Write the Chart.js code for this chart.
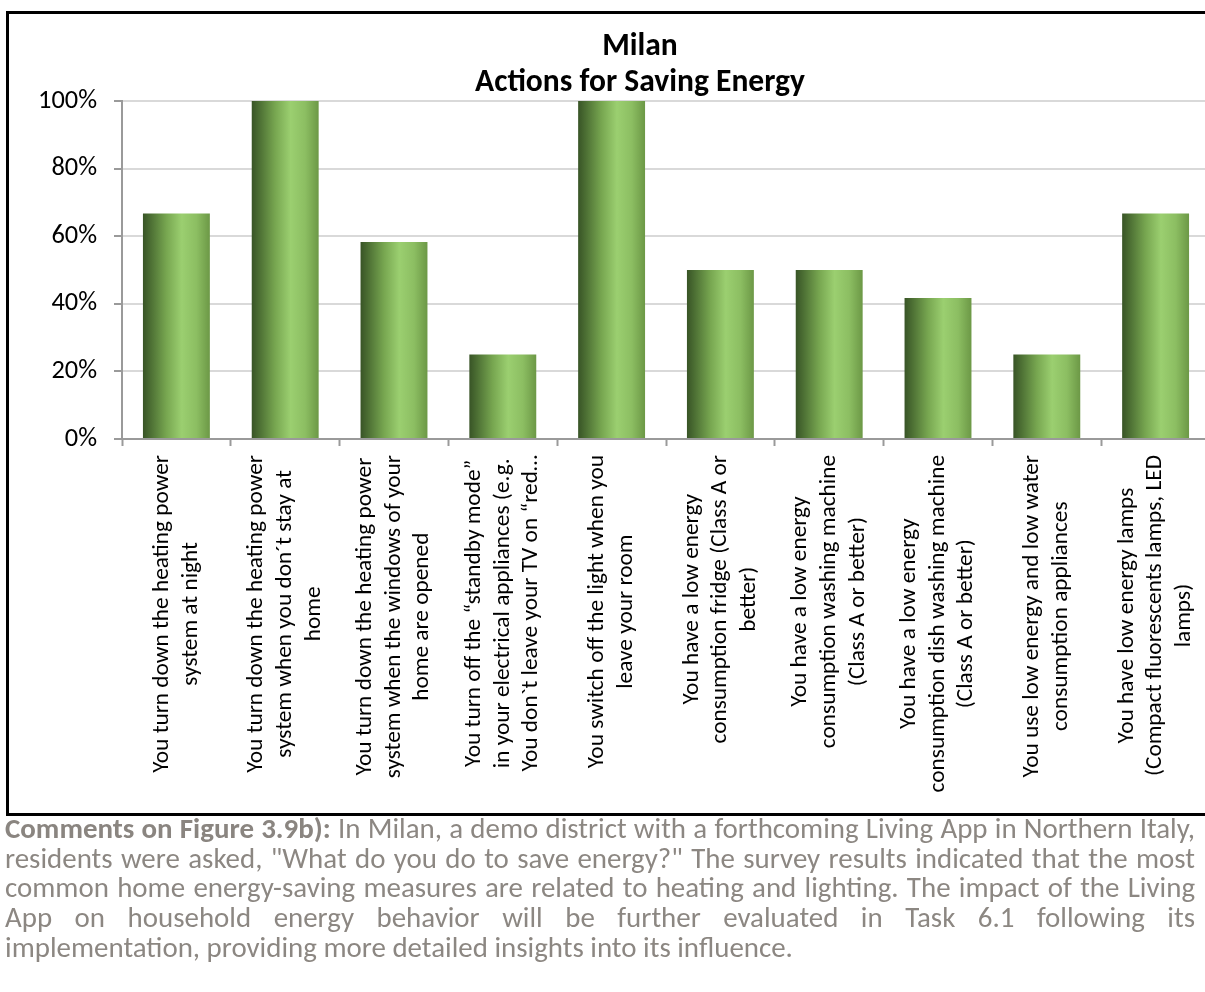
<!DOCTYPE html>
<html>
<head>
<meta charset="utf-8">
<title>Milan – Actions for Saving Energy</title>
<script src="https://cdn.jsdelivr.net/npm/chart.js@4/dist/chart.umd.min.js"></script>
<style>
  html, body { margin: 0; padding: 0; background: #fff; overflow: hidden; width: 1205px; height: 992px; }
  #frame { position: absolute; left: 6px; top: 11px; width: 1261px; height: 799px; border: 3px solid #000; }
  #chartCanvas { position: absolute; left: 0; top: 0; }
  #title { position: absolute; left: 0; top: 26px; width: 1280px; text-align: center; font-weight: bold; color: #000; }
  #comments { position: absolute; left: 5px; top: 814px; width: 1190px; color: #8c8782; }
  #comments div { white-space: nowrap; }
  #comments .j { text-align: justify; text-align-last: justify; white-space: normal; }
  #comments b { color: #8a8580; }
</style>
</head>
<body>
<div id="frame"><canvas id="chartCanvas" width="1261" height="799"></canvas></div>
<div id="title"><div>Milan</div><div>Actions for Saving Energy</div></div>
<div id="comments">
  <div class="j"><b>Comments on Figure 3.9b):</b> In Milan, a demo district with a forthcoming Living App in Northern Italy,</div>
  <div class="j">residents were asked, "What do you do to save energy?" The survey results indicated that the most</div>
  <div class="j">common home energy-saving measures are related to heating and lighting. The impact of the Living</div>
  <div class="j">App on household energy behavior will be further evaluated in Task 6.1 following its</div>
  <div>implementation, providing more detailed insights into its influence.</div>
</div>
<script>
// Survey answers: share of Milan residents taking each action
const categories = [
  ['You turn down the heating power', 'system at night'],
  ['You turn down the heating power', 'system when you don´t stay at', 'home'],
  ['You turn down the heating power', 'system when the windows of your', 'home are opened'],
  ['You turn off the “standby mode”', 'in your electrical appliances (e.g.', 'You don`t leave your TV on “red…'],
  ['You switch off the light when you', 'leave your room'],
  ['You have a low energy', 'consumption fridge (Class A or', 'better)'],
  ['You have a low energy', 'consumption washing machine', '(Class A or better)'],
  ['You have a low energy', 'consumption dish washing machine', '(Class A or better)'],
  ['You use low energy and low water', 'consumption appliances'],
  ['You have low energy lamps', '(Compact fluorescents lamps, LED', 'lamps)']
];
const shareOfResidents = [66.7, 100, 58.3, 25, 100, 50, 50, 41.7, 25, 66.7];
const percentTicks = [0, 20, 40, 60, 80, 100];

const FONT = 'Calibri, Carlito, Lato, sans-serif';

// pick a font size so that a sample string takes the given width
function fitSize(text, weight, width) {
  const c = document.createElement('canvas').getContext('2d');
  c.font = weight + ' 100px ' + FONT;
  return 100 * width / c.measureText(text).width;
}
const tickSize = fitSize('You turn down the heating power', 'normal', 318);
const ySize = fitSize('100%', 'normal', 59);
const titleSize = fitSize('Actions for Saving Energy', 'bold', 330);
const commentSize = fitSize('implementation, providing more detailed insights into its influence.', 'normal', 788);

const title = document.getElementById('title');
title.style.fontFamily = FONT;
title.style.fontSize = titleSize.toFixed(2) + 'px';
title.style.lineHeight = '36px';
const comments = document.getElementById('comments');
comments.style.fontFamily = FONT;
comments.style.fontSize = commentSize.toFixed(2) + 'px';
comments.style.lineHeight = '29.7px';

// Category axis whose rotated multi-line labels are centred line by line,
// with the block centred on its category and starting just below the axis
class WrappedCategoryScale extends Chart.CategoryScale {
  _computeLabelItems(chartArea) {
    const items = super._computeLabelItems(chartArea);
    const ctx = this.ctx;
    items.forEach(item => {
      const lines = Array.isArray(item.label) ? item.label : [item.label];
      ctx.save();
      ctx.font = item.font.string;
      const widest = Math.max(...lines.map(l => ctx.measureText(l).width));
      ctx.restore();
      const lh = item.font.lineHeight;
      const o = item.options;
      o.textAlign = 'center';
      o.translation = [o.translation[0] - (lines.length - 1) * lh / 2, o.translation[1] + widest / 2];
    });
    return items;
  }
}
WrappedCategoryScale.id = 'wrappedCategory';
WrappedCategoryScale.defaults = Chart.CategoryScale.defaults;
Chart.register(WrappedCategoryScale);

const BAR_PCT = 0.615;

function barGradient(context) {
  const chart = context.chart;
  const xs = chart.scales && chart.scales.x;
  if (!chart.chartArea || !xs || context.dataIndex === undefined) return '#7fb257';
  const cx = xs.getPixelForValue(context.dataIndex);
  const w = xs.width / categories.length * BAR_PCT;
  const g = chart.ctx.createLinearGradient(cx - w / 2, 0, cx + w / 2, 0);
  g.addColorStop(0, '#385426');
  g.addColorStop(0.12, '#4d7034');
  g.addColorStop(0.35, '#77a650');
  g.addColorStop(0.58, '#9bcf70');
  g.addColorStop(0.8, '#8cbe62');
  g.addColorStop(1, '#6c9846');
  return g;
}

new Chart(document.getElementById('chartCanvas'), {
  type: 'bar',
  data: {
    labels: categories,
    datasets: [{
      data: shareOfResidents,
      backgroundColor: barGradient,
      borderWidth: 0,
      barPercentage: BAR_PCT,
      categoryPercentage: 1
    }]
  },
  options: {
    responsive: false,
    animation: false,
    events: [],
    layout: { padding: { top: 87, right: 60, left: 0, bottom: 0 } },
    plugins: { legend: { display: false }, tooltip: { enabled: false }, title: { display: false } },
    scales: {
      x: {
        type: 'wrappedCategory',
        offset: true,
        grid: { offset: true, drawOnChartArea: false, drawTicks: true, tickLength: 7, tickColor: '#9a9a9a', tickWidth: 2 },
        border: { display: true, color: '#9a9a9a', width: 2 },
        ticks: {
          autoSkip: false,
          maxRotation: 90,
          minRotation: 90,
          padding: 9,
          color: '#000',
          font: { family: FONT, size: tickSize, lineHeight: '28.6px' }
        },
        afterFit(scale) { scale.height = 374; scale.paddingLeft = 0; scale.paddingRight = 0; }
      },
      y: {
        min: 0,
        max: 100,
        afterBuildTicks(scale) { scale.ticks = percentTicks.map(v => ({ value: v })); },
        grid: { color: '#d9d9d9', lineWidth: 2, drawTicks: true, tickLength: 8, tickColor: '#9a9a9a', tickWidth: 2 },
        border: { display: true, color: '#9a9a9a', width: 2 },
        ticks: {
          padding: 17,
          color: '#000',
          font: { family: FONT, size: ySize },
          callback: v => v + '%'
        },
        afterFit(scale) { scale.width = 113; scale.paddingTop = 0; scale.paddingBottom = 0; }
      }
    }
  }
});
</script>
</body>
</html>
